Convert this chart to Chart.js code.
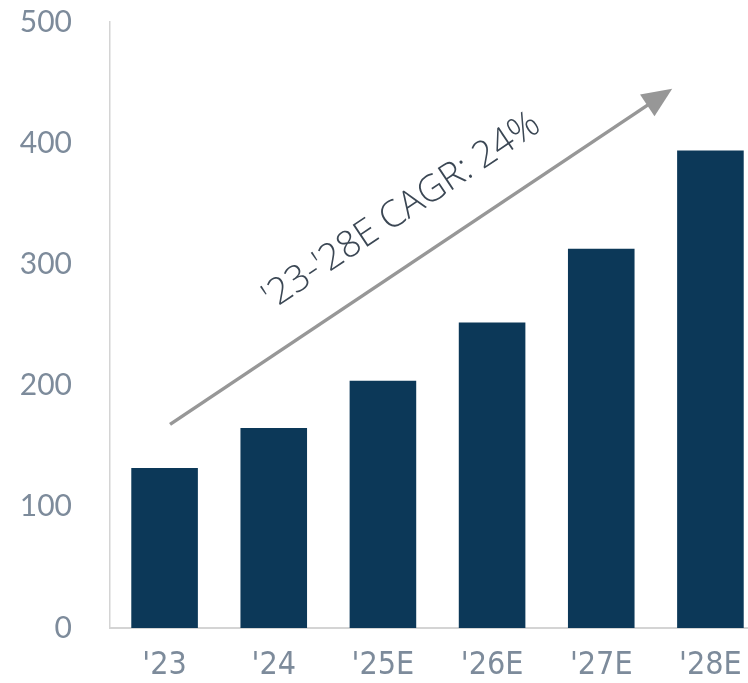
<!DOCTYPE html>
<html>
<head>
<meta charset="utf-8">
<script src="https://cdn.jsdelivr.net/npm/chart.js@4/dist/chart.umd.min.js"></script>
<style>
html, body { margin: 0; padding: 0; background: #fff; overflow: hidden; }
#wrap { width: 765px; height: 683px; }
</style>
</head>
<body>
<div id="wrap"><canvas id="chart" width="765" height="683"></canvas></div>
<script>
// data
const years = ["'23", "'24", "'25E", "'26E", "'27E", "'28E"]
const values = [132, 165, 204, 252, 313, 394]
const yTicks = [0, 100, 200, 300, 400, 500]

// annotation arrow, in data units (category index, value)
const cagrText = "'23-'28E CAGR: 24%"
const arrowFrom = [0.05, 168]
const arrowTo = [4.65, 445]

const navy = "#0c3858"
const tickGrey = "#7d8b9b"
const axisGrey = "#d4d4d4"

const cagrArrow = {
  id: "cagrArrow",
  afterDatasetsDraw(chart) {
    const ctx = chart.ctx
    const xs = chart.scales.x, ys = chart.scales.y
    const x1 = xs.getPixelForValue(arrowFrom[0]), y1 = ys.getPixelForValue(arrowFrom[1])
    const x2 = xs.getPixelForValue(arrowTo[0]), y2 = ys.getPixelForValue(arrowTo[1])
    const ang = Math.atan2(y2 - y1, x2 - x1)
    const head = 30, hw = 13

    ctx.save()
    // shaft
    ctx.strokeStyle = "#979797"
    ctx.lineWidth = 3.5
    ctx.beginPath()
    ctx.moveTo(x1, y1)
    ctx.lineTo(x2 - Math.cos(ang) * (head - 4), y2 - Math.sin(ang) * (head - 4))
    ctx.stroke()
    // head
    ctx.fillStyle = "#979797"
    ctx.translate(x2, y2)
    ctx.rotate(ang)
    ctx.beginPath()
    ctx.moveTo(0, 0)
    ctx.lineTo(-head, -hw)
    ctx.lineTo(-head, hw)
    ctx.closePath()
    ctx.fill()
    ctx.restore()

    // label along the arrow
    const len = Math.hypot(x2 - x1, y2 - y1)
    ctx.save()
    ctx.translate(x1, y1)
    ctx.rotate(ang)
    ctx.font = "300 37px 'Open Sans', Lato, sans-serif"
    ctx.fillStyle = "#3b4754"
    ctx.textAlign = "center"
    ctx.textBaseline = "alphabetic"
    ctx.fillText(cagrText, len * 0.515, -38)
    ctx.restore()
  }
}

new Chart(document.getElementById("chart"), {
  type: "bar",
  data: {
    labels: years,
    datasets: [{
      data: values,
      backgroundColor: navy,
      borderWidth: 0,
      categoryPercentage: 1,
      barPercentage: 0.61
    }]
  },
  options: {
    responsive: false,
    animation: false,
    layout: { padding: { top: 22, right: 0, left: 0, bottom: 0 } },
    plugins: { legend: { display: false }, tooltip: { enabled: false } },
    scales: {
      x: {
        grid: { display: false, drawTicks: false },
        border: { color: axisGrey, width: 2 },
        ticks: {
          color: tickGrey,
          padding: 18,
          font: { family: "'Liberation Sans Narrow', 'DejaVu Sans Condensed', Roboto, sans-serif", size: 32 }
        },
        afterFit(s) { s.height = 55; s.paddingLeft = 0; s.paddingRight = 0 }
      },
      y: {
        min: 0,
        max: 500,
        afterBuildTicks(s) { s.ticks = yTicks.map(v => ({ value: v })) },
        grid: { display: false, drawTicks: false },
        border: { color: axisGrey, width: 1.5 },
        ticks: {
          color: tickGrey,
          padding: 38,
          font: { family: "Lato, 'Open Sans', sans-serif", size: 30 }
        },
        afterFit(s) { s.width = 110; s.paddingTop = 0; s.paddingBottom = 0 }
      }
    }
  },
  plugins: [cagrArrow]
})
</script>
</body>
</html>
